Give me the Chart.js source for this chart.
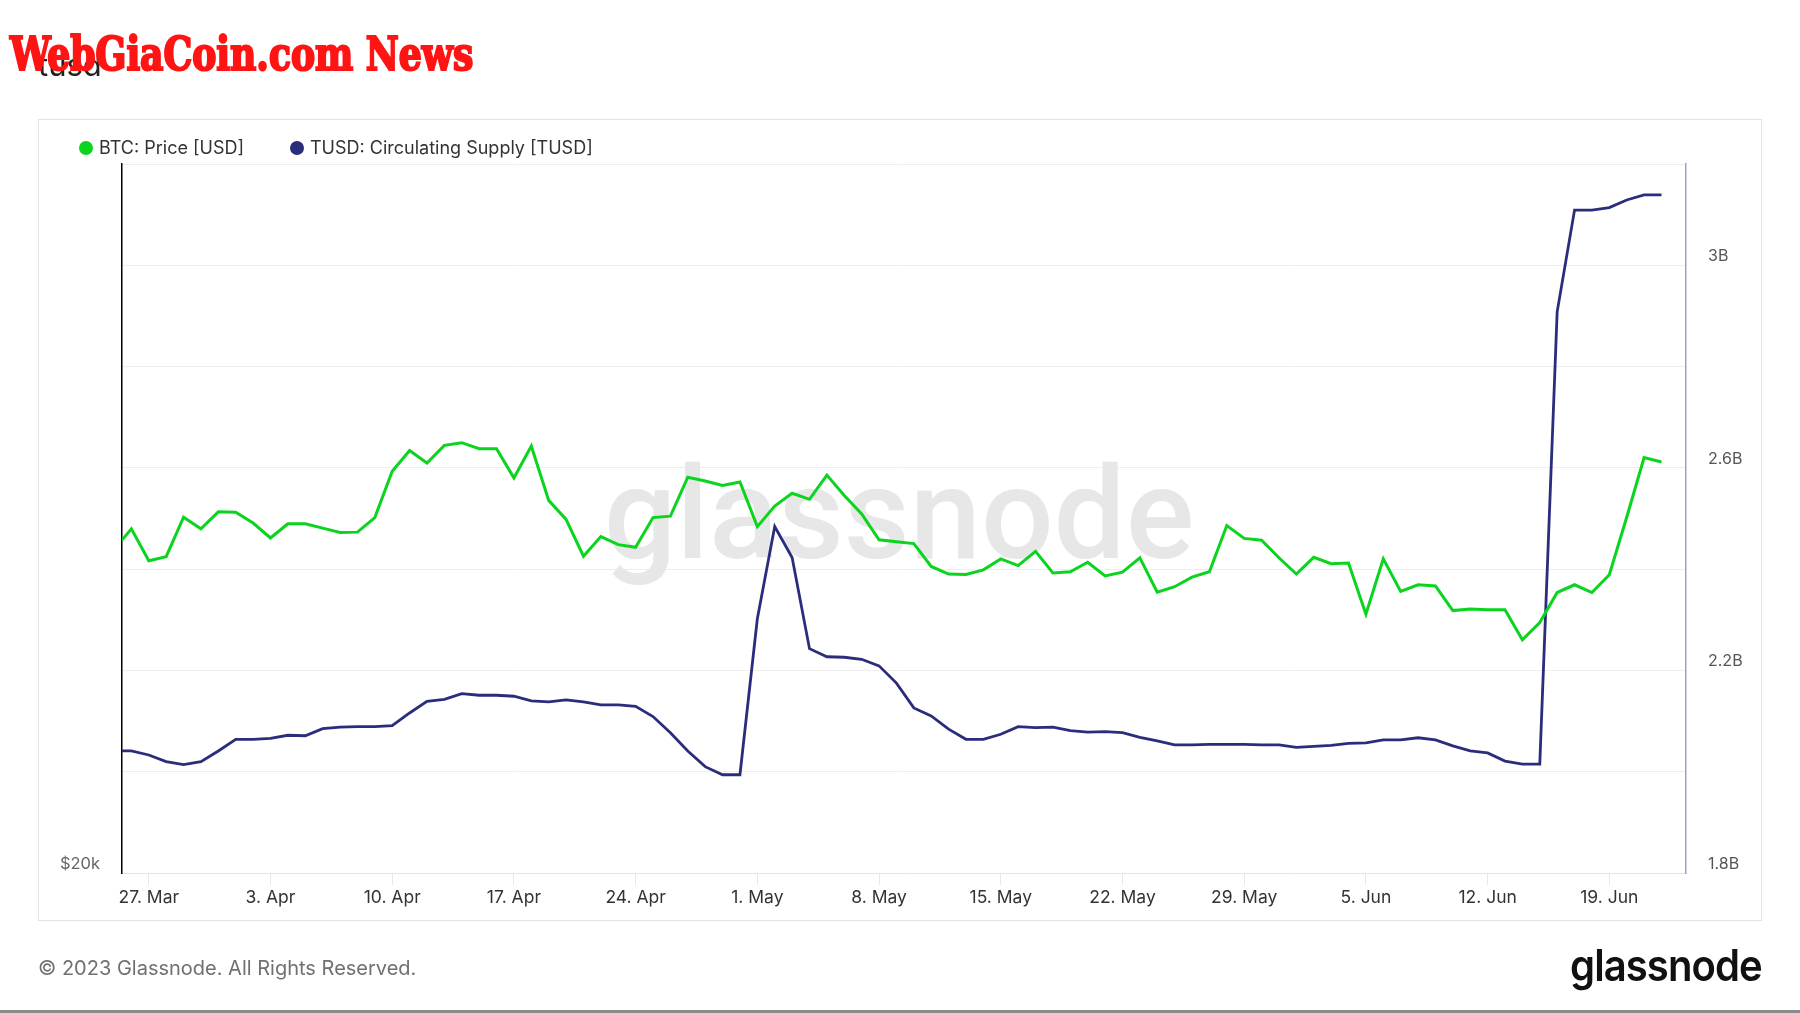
<!DOCTYPE html>
<html>
<head>
<meta charset="utf-8">
<script src="https://cdn.jsdelivr.net/npm/chart.js@4.4.0/dist/chart.umd.min.js"></script>
<style>
  html, body { margin: 0; padding: 0; background: #fff; }
  body { width: 1800px; height: 1013px; position: relative; overflow: hidden; font-family: Inter, "Noto Sans", sans-serif; }
  #box { position: absolute; left: 38px; top: 119px; width: 1722px; height: 800px; border: 1px solid #e4e4e4; }
  #chart { position: absolute; left: 0; top: 0; }
  #title { position: absolute; left: 38px; top: 46px; font-size: 31px; color: #222; }
  #brand { position: absolute; left: 10px; top: 26px; font-family: "DejaVu Serif Condensed", "DejaVu Serif", serif; font-weight: bold; font-size: 47px; color: #ff1414; -webkit-text-stroke: 2.2px #ff1414; white-space: nowrap; transform-origin: 0 0; }
  .leg { position: absolute; top: 137px; font-size: 18px; color: #333; white-space: nowrap; }
  .leg i { display: inline-block; width: 14px; height: 14px; border-radius: 50%; margin-right: 6px; vertical-align: -1px; }
  #foot { position: absolute; left: 38px; top: 956px; font-size: 20px; color: #707070; }
  #logo { position: absolute; left: 1570px; top: 938px; font-size: 44px; font-weight: 600; color: #111; letter-spacing: -1px; white-space: nowrap; transform-origin: 0 0; }
  #bar { position: absolute; left: 0; top: 1010px; width: 1800px; height: 3px; background: #8a8a8a; }
</style>
</head>
<body>
<div id="box"></div>
<canvas id="chart" width="1800" height="1013"></canvas>
<div id="title">tusd</div>
<div id="brand">WebGiaCoin.com News</div>
<div class="leg" style="left:79px"><i style="background:#0bd41f"></i>BTC: Price [USD]</div>
<div class="leg" style="left:290px"><i style="background:#2a2d7c"></i>TUSD: Circulating Supply [TUSD]</div>
<div id="foot">© 2023 Glassnode. All Rights Reserved.</div>
<div id="logo">glassnode</div>
<div id="bar"></div>
<script>
// days counted from 27 Mar 2023 (first point is 25 Mar, last 22 Jun)
var firstDay = -2;
var tickDays = [0, 7, 14, 21, 28, 35, 42, 49, 56, 63, 70, 77, 84];
var tickLabels = ['27. Mar', '3. Apr', '10. Apr', '17. Apr', '24. Apr', '1. May', '8. May',
                  '15. May', '22. May', '29. May', '5. Jun', '12. Jun', '19. Jun'];

var btcPrice = [
  27440, 28000, 27140, 27250, 28320, 28000, 28470, 28460, 28160, 27750,
  28140, 28140, 28020, 27900, 27910, 28310, 29620, 30230, 29860, 30380,
  30460, 30280, 30280, 29430, 30360, 28790, 28260, 27260, 27790, 27570,
  27500, 28310, 28350, 29450, 29340, 29210, 29310, 28060, 28630, 28990,
  28820, 29510, 28930, 28410, 27700, 27650, 27600, 26990, 26790, 26780,
  26900, 27190, 27010, 27390, 26820, 26850, 27100, 26740, 26840, 27220,
  26320, 26460, 26710, 26850, 28090, 27740, 27690, 27220, 26790, 27230,
  27060, 27080, 25760, 27190, 26340, 26510, 26480, 25850, 25890, 25870,
  25870, 25120, 25550, 26310, 26510, 26310, 26770, 28320, 30020, 29890
];

// billions
var tusdSupply = [
  2.041, 2.041, 2.033, 2.020, 2.014, 2.020, 2.041, 2.064, 2.064, 2.066,
  2.072, 2.071, 2.085, 2.088, 2.089, 2.089, 2.091, 2.116, 2.139, 2.143,
  2.154, 2.151, 2.151, 2.149, 2.140, 2.138, 2.142, 2.138, 2.132, 2.132,
  2.129, 2.109, 2.077, 2.041, 2.010, 1.994, 1.994, 2.302, 2.484, 2.423,
  2.243, 2.227, 2.226, 2.222, 2.209, 2.175, 2.126, 2.110, 2.084, 2.064,
  2.064, 2.074, 2.089, 2.087, 2.088, 2.081, 2.078, 2.079, 2.077, 2.068,
  2.061, 2.053, 2.053, 2.054, 2.054, 2.054, 2.053, 2.053, 2.048, 2.050,
  2.052, 2.056, 2.057, 2.063, 2.063, 2.067, 2.063, 2.051, 2.041, 2.037,
  2.021, 2.015, 2.015, 2.908, 3.109, 3.109, 3.114, 3.129, 3.139, 3.139
];

var priceTicks = [20000];
var supplyMin = 1.8, supplyMax = 3.2, supplyStep = 0.2;

function toPoints(arr) {
  return arr.map(function (v, i) { return { x: firstDay + i, y: v }; });
}

// squeeze the red header to its width in the picture
var brand = document.getElementById('brand');
brand.style.transform = 'scaleX(' + (463 / brand.offsetWidth) + ')';
var logo = document.getElementById('logo');
logo.style.transform = 'scaleX(' + (192 / logo.offsetWidth) + ')';

var watermark = {
  id: 'watermark',
  beforeDatasetsDraw: function (chart) {
    var ctx = chart.ctx;
    ctx.save();
    ctx.font = '500 128px Roboto';
    ctx.fillStyle = '#e7e7e7';
    ctx.textAlign = 'center';
    ctx.textBaseline = 'alphabetic';
    ctx.fillText('glassnode', 899, 558);
    ctx.restore();
  }
};

new Chart(document.getElementById('chart'), {
  type: 'line',
  data: {
    datasets: [
      {
        label: 'BTC: Price [USD]',
        data: toPoints(btcPrice),
        yAxisID: 'yPrice',
        borderColor: '#0bd41f',
        borderWidth: 3,
        pointRadius: 0,
        tension: 0
      },
      {
        label: 'TUSD: Circulating Supply [TUSD]',
        data: toPoints(tusdSupply),
        yAxisID: 'ySupply',
        borderColor: '#2a2d7c',
        borderWidth: 2.8,
        pointRadius: 0,
        tension: 0
      }
    ]
  },
  options: {
    responsive: false,
    animation: false,
    events: [],
    layout: { padding: { left: 38, right: 38, top: 164, bottom: 90 } },
    plugins: { legend: { display: false }, tooltip: { enabled: false } },
    scales: {
      x: {
        type: 'linear',
        min: -1.54,
        max: 88.41,
        afterFit: function (s) { s.height = 50; },
        afterBuildTicks: function (s) { s.ticks = tickDays.map(function (d) { return { value: d }; }); },
        grid: { drawOnChartArea: false, drawTicks: true, tickLength: 12, color: '#e8e8e8' },
        border: { display: true, color: '#e4e4e4', width: 1 },
        ticks: {
          padding: 2,
          color: '#333',
          font: { family: 'Inter', size: 17.5 },
          maxRotation: 0,
          callback: function (v) { return tickLabels[tickDays.indexOf(v)]; }
        }
      },
      yPrice: {
        type: 'logarithmic',
        position: 'left',
        min: 20000,
        max: 40000,
        afterFit: function (s) { s.width = 84; },
        afterBuildTicks: function (s) { s.ticks = priceTicks.map(function (v) { return { value: v }; }); },
        grid: { display: false, drawTicks: false },
        border: { display: true, color: '#000', width: 1.5 },
        ticks: {
          padding: 22,
          labelOffset: -9,
          color: '#666',
          font: { family: 'Inter', size: 16.5 },
          callback: function (v) { return '$' + (v / 1000) + 'k'; }
        }
      },
      ySupply: {
        type: 'linear',
        position: 'right',
        min: supplyMin,
        max: supplyMax,
        afterFit: function (s) { s.width = 76; },
        grid: { color: '#eeeeee', drawTicks: false },
        border: { display: true, color: '#9f9fcc', width: 1.5 },
        ticks: {
          stepSize: supplyStep,
          padding: 22,
          labelOffset: -9,
          color: '#555',
          font: { family: 'Inter', size: 16 },
          callback: function (v, i) {
            if (i % 2 !== 0) return '';
            return (Math.round(v * 10) / 10) + 'B';
          }
        }
      }
    }
  },
  plugins: [watermark]
});
</script>
</body>
</html>
